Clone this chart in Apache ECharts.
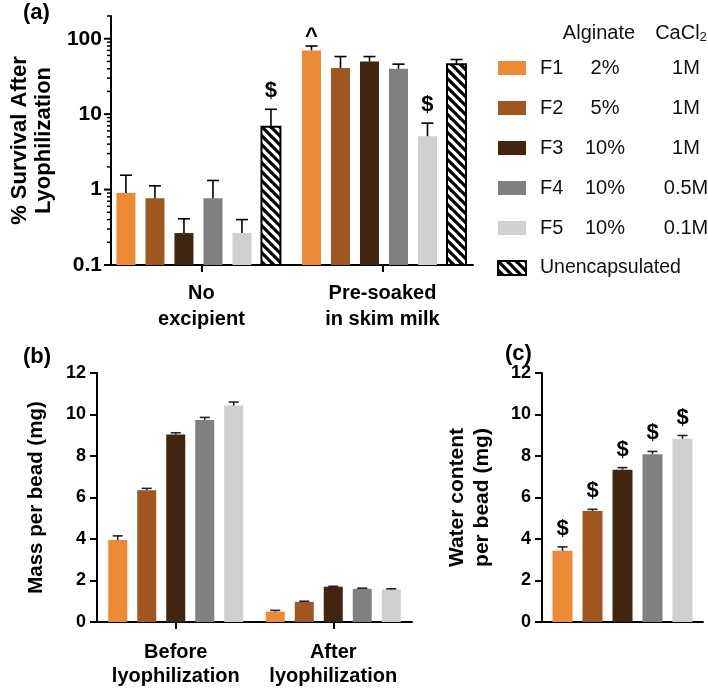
<!DOCTYPE html>
<html><head><meta charset="utf-8">
<script src="https://cdn.jsdelivr.net/npm/echarts@6/dist/echarts.min.js"></script>
<style>html,body{margin:0;padding:0;background:#fff}#c{width:708px;height:688px}</style>
</head><body><div id="c"></div>
<script>
const FONT = '"Liberation Sans", Arial, Helvetica, sans-serif';

// ---- shared ----
const formulations = ['F1', 'F2', 'F3', 'F4', 'F5'];
const alginate = ['2%', '5%', '10%', '10%', '10%'];
const cacl2 = ['1M', '1M', '1M', '0.5M', '0.1M'];
const colors = ['#ED8A36', '#A0561F', '#42250F', '#808080', '#CFCFCF'];

// ---- panel (a): % survival after lyophilization (log axis) ----
const catsA = ['No\nexcipient', 'Pre-soaked\nin skim milk'];
const namesA = ['F1', 'F2', 'F3', 'F4', 'F5', 'Unencapsulated'];
const survivalMean = [[0.90, 70], [0.77, 41], [0.265, 50], [0.77, 40], [0.265, 5.1], [6.8, 46]];
const survivalErrTop = [[1.55, 80], [1.12, 58], [0.41, 58], [1.32, 46], [0.40, 7.6], [11.6, 53]];
const annotA = [['', '^'], ['', ''], ['', ''], ['', ''], ['', '$'], ['$', '']];
const majorTicksA = [0.1, 1, 10, 100];
const minorTicksA = [0.2, 0.3, 0.4, 0.5, 0.6, 0.7, 0.8, 0.9, 2, 3, 4, 5, 6, 7, 8, 9,
  20, 30, 40, 50, 60, 70, 80, 90, 200];

// ---- panel (b): mass per bead ----
const catsB = ['Before\nlyophilization', 'After\nlyophilization'];
const massMean = [[3.95, 0.50], [6.35, 0.97], [9.04, 1.70], [9.74, 1.60], [10.43, 1.57]];
const massErrTop = [[4.15, 0.56], [6.44, 1.00], [9.12, 1.72], [9.86, 1.63], [10.60, 1.60]];

// ---- panel (c): water content per bead ----
const catsC = ['Water content'];
const waterMean = [3.43, 5.35, 7.34, 8.09, 8.83];
const waterErrTop = [3.62, 5.43, 7.44, 8.22, 8.99];
const annotC = ['$', '$', '$', '$', '$'];

function makeHatch() {
  const s = 9, c = document.createElement('canvas');
  c.width = s; c.height = s;
  const g = c.getContext('2d');
  g.fillStyle = '#fff'; g.fillRect(0, 0, s, s);
  g.strokeStyle = '#000'; g.lineWidth = 3.2;
  for (let k = -1; k <= 1; k++) {
    g.beginPath(); g.moveTo(-2, k * s - 2); g.lineTo(s + 2, k * s + s + 2); g.stroke();
  }
  return c;
}
const hatch = { image: makeHatch(), repeat: 'repeat' };

const chart = echarts.init(document.getElementById('c'), null, { renderer: 'canvas' });

const axisLine = { show: true, lineStyle: { color: '#000', width: 2 } };
const tickStyle = { show: true, length: 7, lineStyle: { color: '#000', width: 2 } };
const tickLabel = (size, margin) => ({ fontFamily: FONT, fontSize: size, fontWeight: 'bold', color: '#000', margin });
const nameStyle = (size, lh) => ({ fontFamily: FONT, fontSize: size, fontWeight: 'bold', color: '#000', lineHeight: lh });

function annText(txt, x, yCap) {
  return {
    type: 'text',
    style: {
      text: txt, x: x, y: yCap + (txt === '^' ? 2 : -7), align: 'center', verticalAlign: 'bottom',
      font: 'bold 22px ' + FONT, fill: '#000'
    }
  };
}

function errorChildren(x, yMean, yTop, capW, color) {
  return [
    { type: 'line', shape: { x1: x, y1: yMean, x2: x, y2: yTop }, style: { stroke: color, lineWidth: 1.6 } },
    { type: 'line', shape: { x1: x - capW / 2, y1: yTop, x2: x + capW / 2, y2: yTop }, style: { stroke: color, lineWidth: 1.6 } }
  ];
}

const series = [];

// panel (a) bars + error bars (custom, so bars start at the log axis minimum)
const BW_A = 19, STEP_A = 29, SHIFT_A = [-3, 1.5];
namesA.forEach((nm, i) => {
  const isUnenc = nm === 'Unencapsulated';
  series.push({
    type: 'custom', name: nm, xAxisIndex: 0, yAxisIndex: 0, z: 3,
    itemStyle: isUnenc ? { color: hatch, borderColor: '#000', borderWidth: 2 } : { color: colors[i] },
    data: survivalMean[i].map((v, j) => [j, v, survivalErrTop[i][j]]),
    renderItem: (params, api) => {
      const cat = api.value(0), v = api.value(1), top = api.value(2);
      const pv = api.coord([cat, v]);
      const pb = api.coord([cat, majorTicksA[0]]);
      const pt = api.coord([cat, top]);
      const x = pv[0] + SHIFT_A[params.dataIndex] + (i - (namesA.length - 1) / 2) * STEP_A;
      const st = api.style();
      if (isUnenc) { st.stroke = '#000'; st.lineWidth = 2; }
      const children = [
        { type: 'rect', shape: { x: x - BW_A / 2, y: pv[1], width: BW_A, height: pb[1] - pv[1] }, style: st }
      ].concat(errorChildren(x, pv[1], pt[1], 12, '#000'));
      const a = annotA[i][params.dataIndex];
      if (a) children.push(annText(a, x, pt[1]));
      return { type: 'group', children };
    }
  });
});

// panel (a) log-axis ticks drawn through the axis scale
series.push({
  type: 'custom', xAxisIndex: 0, yAxisIndex: 0, silent: true, z: 5,
  data: majorTicksA.map(v => [0, v, 7]).concat(minorTicksA.map(v => [0, v, 4])),
  renderItem: (params, api) => {
    const p = api.coord([0, api.value(1)]);
    const x0 = params.coordSys.x;
    return { type: 'line', shape: { x1: x0 - api.value(2), y1: p[1], x2: x0, y2: p[1] }, style: { stroke: '#000', lineWidth: api.value(2) > 5 ? 2 : 1.5 } };
  }
});

// panel (b) bars + error bars
formulations.forEach((nm, i) => {
  series.push({
    type: 'bar', name: nm, xAxisIndex: 1, yAxisIndex: 1, barWidth: 19, barGap: '52.6%',
    itemStyle: { color: colors[i] }, data: massMean[i]
  });
});
formulations.forEach((nm, i) => {
  series.push({
    type: 'custom', xAxisIndex: 1, yAxisIndex: 1, z: 4, silent: true,
    data: massMean[i].map((v, j) => [j, v, massErrTop[i][j]]),
    renderItem: (params, api) => {
      const pv = api.coord([api.value(0), api.value(1)]);
      const pt = api.coord([api.value(0), api.value(2)]);
      const x = pv[0] + (i - 2) * 29;
      return { type: 'group', children: errorChildren(x, pv[1], pt[1], 10, '#1e2430') };
    }
  });
});

// panel (c) bars + error bars
formulations.forEach((nm, i) => {
  series.push({
    type: 'bar', name: nm, xAxisIndex: 2, yAxisIndex: 2, barWidth: 20, barGap: '50%',
    itemStyle: { color: colors[i] }, data: [waterMean[i]]
  });
});
formulations.forEach((nm, i) => {
  series.push({
    type: 'custom', xAxisIndex: 2, yAxisIndex: 2, z: 4, silent: true,
    data: [[0, waterMean[i], waterErrTop[i]]],
    renderItem: (params, api) => {
      const pv = api.coord([0, api.value(1)]);
      const pt = api.coord([0, api.value(2)]);
      const x = pv[0] + (i - 2) * 30;
      const ch = errorChildren(x, pv[1], pt[1], 10, '#1e2430');
      if (annotC[i]) ch.push(annText(annotC[i], x, pt[1]));
      return { type: 'group', children: ch };
    }
  });
});

const option = {
  animation: false,
  backgroundColor: '#fff',
  grid: [
    { left: 99, top: 16, width: 374, height: 249 },
    { left: 97, top: 373, width: 315, height: 249 },
    { left: 542, top: 373, width: 161, height: 249 }
  ],
  xAxis: [
    { type: 'category', gridIndex: 0, data: catsA, axisLine,
      axisTick: { show: true, alignWithLabel: true, length: 7, lineStyle: { color: '#000', width: 2 } },
      axisLabel: Object.assign(tickLabel(20, 15), { lineHeight: 26, interval: 0 }) },
    { type: 'category', gridIndex: 1, data: catsB, axisLine,
      axisTick: { show: true, alignWithLabel: true, length: 7, lineStyle: { color: '#000', width: 2 } },
      axisLabel: Object.assign(tickLabel(20, 18), { lineHeight: 24, interval: 0 }) },
    { type: 'category', gridIndex: 2, data: catsC, axisLine,
      axisTick: { show: false }, axisLabel: { show: false } }
  ],
  yAxis: [
    { type: 'log', logBase: 10, gridIndex: 0, min: 0.1, max: 200, axisLine,
      axisTick: { show: false }, splitLine: { show: false }, minorTick: { show: false },
      axisLabel: Object.assign(tickLabel(21, 9), { showMaxLabel: false }),
      name: '% Survival After\nLyophilization', nameLocation: 'middle', nameGap: 52, nameTextStyle: nameStyle(22, 24) },
    { type: 'value', gridIndex: 1, min: 0, max: 12, interval: 2, axisLine, axisTick: tickStyle,
      splitLine: { show: false }, axisLabel: tickLabel(18, 11),
      name: 'Mass per bead (mg)', nameLocation: 'middle', nameGap: 50, nameTextStyle: nameStyle(20.5, 22) },
    { type: 'value', gridIndex: 2, min: 0, max: 12, interval: 2, axisLine, axisTick: tickStyle,
      splitLine: { show: false }, axisLabel: tickLabel(18, 11),
      name: 'Water content\nper bead (mg)', nameLocation: 'middle', nameGap: 47, nameTextStyle: nameStyle(21, 25) }
  ],
  legend: {
    orient: 'vertical', left: 492, top: 53, itemWidth: 28, itemHeight: 14, itemGap: 20,
    icon: 'rect', selectedMode: false,
    data: namesA,
    formatter: (name) => {
      const i = formulations.indexOf(name);
      if (i < 0) return '{s| }{u|' + name + '}';
      return '{s| }{n|' + name + '}{a|' + alginate[i] + '}{c|' + cacl2[i] + '}';
    },
    textStyle: {
      fontFamily: FONT, fontSize: 20, color: '#111', lineHeight: 20,
      rich: {
        s: { width: 9, fontSize: 20, lineHeight: 20, fontFamily: FONT },
        n: { width: 38, fontSize: 20, lineHeight: 20, fontFamily: FONT, color: '#111' },
        a: { width: 54, align: 'center', fontSize: 20, lineHeight: 20, fontFamily: FONT, color: '#111' },
        c: { width: 108, align: 'center', fontSize: 20, lineHeight: 20, fontFamily: FONT, color: '#111' },
        u: { fontSize: 19.5, lineHeight: 20, fontFamily: FONT, color: '#111' }
      }
    }
  },
  graphic: [
    { type: 'text', left: 23, top: 2, style: { text: '(a)', font: 'bold 22px ' + FONT, fill: '#000' } },
    { type: 'text', left: 23, top: 346, style: { text: '(b)', font: 'bold 22px ' + FONT, fill: '#000' } },
    { type: 'text', left: 505, top: 343, style: { text: '(c)', font: 'bold 22px ' + FONT, fill: '#000' } },
    { type: 'text', x: 599, y: 33, style: { text: 'Alginate', font: '20px ' + FONT, fill: '#111', align: 'center', verticalAlign: 'middle' } },
    { type: 'text', x: 681, y: 33, style: { text: 'CaCl{s|2}', font: '20px ' + FONT, fill: '#111', align: 'center', verticalAlign: 'middle',
        rich: { s: { fontSize: 13, fontFamily: FONT, fill: '#111', padding: [9, 0, 0, 0] } } } }
  ],
  series
};
chart.setOption(option);
</script>
</body></html>
